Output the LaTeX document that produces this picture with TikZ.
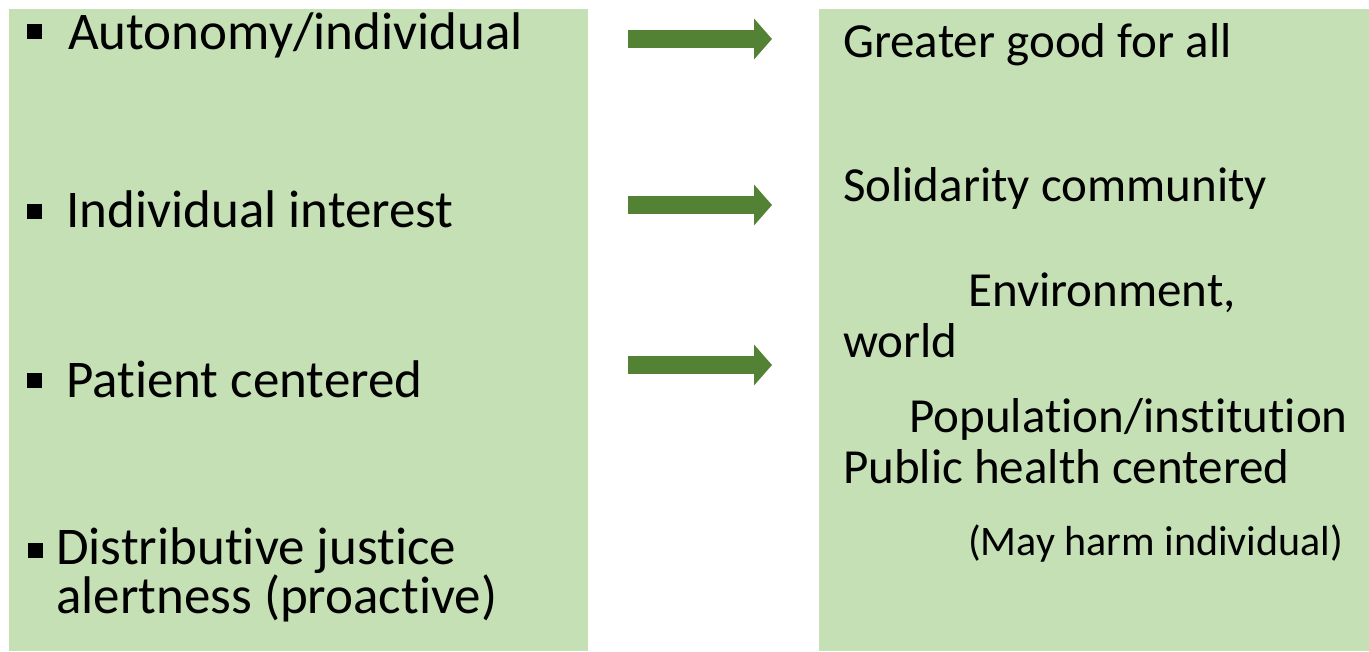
\documentclass[tikz,border=0pt]{standalone}
\usepackage{fontspec}
\setmainfont{Carlito}[Ligatures=NoCommon]
\usepackage{xcolor}
\usepackage{tikz}
\usetikzlibrary{arrows.meta,positioning}
\definecolor{boxColor}{RGB}{197, 224, 180}
\definecolor{arrowColor}{RGB}{84, 130, 53}
\tikzset{
  panel/.style={fill=boxColor, draw=none, rectangle, anchor=north west, inner sep=0pt},
  itemText/.style={anchor=base west, inner sep=0pt, align=left, font=\fontsize{53}{43}\selectfont},
  goalText/.style={anchor=base west, inner sep=0pt, font=\fontsize{49}{44}\selectfont},
  noteText/.style={anchor=base west, inner sep=0pt, font=\fontsize{42}{44}\selectfont},
  bulletMark/.style={fill=black, rectangle, minimum size=15pt, inner sep=0pt},
  bigArrow/.style={arrowColor, line width=18pt, -{Triangle[length=18pt, width=40pt]}}
}

\begin{document}
\begin{tikzpicture}[x=1pt, y=-1pt]
            \useasboundingbox (0,0) rectangle (1369,652);

            % Two green panels
            \node[panel, minimum width=579pt, minimum height=642pt] (leftBox) at (9,9) {};
            \node[panel, minimum width=550pt, minimum height=642pt] (rightBox) at (819,9) {};

            % Bullets on the left
            \node[bulletMark] (bulletA) at (34.5,31.5) {};
            \node[bulletMark] (bulletB) at (34.5,212) {};
            \node[bulletMark] (bulletC) at (34.5,381) {};
            \node[bulletMark] (bulletD) at (35,550) {};

            % Left list
            \node[itemText] (autonomy) at (68,50) {Autonomy/individual};
            \node[itemText] (interest) at (66,228) {Individual interest};
            \node[itemText] (patient) at (66,398) {Patient centered};
            \node[itemText] (justice) at (56,613) {Distributive justice\\alertness (proactive)};

            % Right list
            \node[goalText] (greater) at (843,58) {Greater good for all};
            \node[goalText] (solidarity) at (843,202) {Solidarity community};
            \node[goalText] (environment) at (968,307) {Environment,};
            \node[goalText] (world) at (843,358) {world};
            \node[goalText] (population) at (909,432) {Population/institution};
            \node[goalText] (publicHealth) at (843,483) {Public health centered};
            \node[noteText] (harm) at (968,555) {(May harm individual)};

            % Arrows between the panels
            \coordinate (arrowAStart) at (628,39);
            \coordinate (arrowAEnd) at (772,39);
            \coordinate (arrowBStart) at (628,205);
            \coordinate (arrowBEnd) at (772,205);
            \coordinate (arrowCStart) at (628,365);
            \coordinate (arrowCEnd) at (772,365);
            \draw[bigArrow] (arrowAStart) -- (arrowAEnd);
            \draw[bigArrow] (arrowBStart) -- (arrowBEnd);
            \draw[bigArrow] (arrowCStart) -- (arrowCEnd);
        \end{tikzpicture}
\end{document}
